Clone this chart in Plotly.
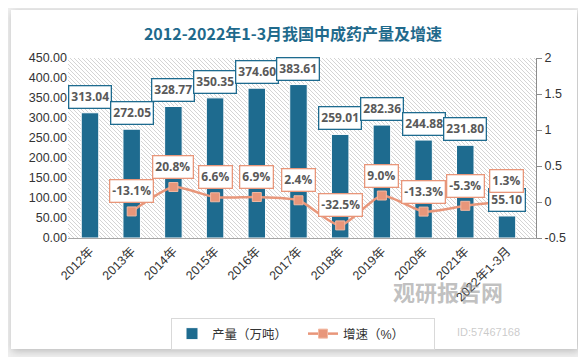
import base64
import plotly.graph_objects as go

# ---- data ----
years = ["2012年", "2013年", "2014年", "2015年", "2016年", "2017年",
         "2018年", "2019年", "2020年", "2021年", "2022年1-3月"]
production = [313.04, 272.05, 328.77, 350.35, 374.60, 383.61,
              259.01, 282.36, 244.88, 231.80, 55.10]
growth_years = years[1:]
growth_pct = [-13.1, 20.8, 6.6, 6.9, 2.4, -32.5, 9.0, -13.3, -5.3, 1.3]

title_text = "2012-2022年1-3月我国中成药产量及增速"
bar_name = "产量（万吨）"
line_name = "增速（%）"

# ---- style ----
OFF = 8  # page body margin
PAGE_W, PAGE_H = 586, 357
W, H = PAGE_W - OFF, PAGE_H - OFF
# plot area in page pixels: x 68..536, y 58..238
ML, MR, MT, MB = 68 - OFF, PAGE_W - 536, 58 - OFF, PAGE_H - 238
PW, PH = W - ML - MR, H - MT - MB
BLUE = "#1e6b8f"
ORANGE = "#e8967a"
FONT = "Liberation Sans, Noto Sans CJK SC, sans-serif"
LABEL_FONT = "Open Sans, Noto Sans CJK SC, sans-serif"


def px2x(px):  # page px -> paper x
    return (px - OFF - ML) / PW


def py2y(py):  # page px -> paper y
    return (MT + PH - (py - OFF)) / PH


def s(v):  # page px -> figure px
    return v - OFF


svg = f"""<svg xmlns='http://www.w3.org/2000/svg' width='{W}' height='{H}' viewBox='0 0 {W} {H}'>
<defs>
<filter id='sh' x='-10%' y='-10%' width='120%' height='120%'><feGaussianBlur stdDeviation='4'/></filter>
<pattern id='h' width='4' height='4' patternUnits='userSpaceOnUse'>
<path d='M-1,-1L5,5M3,-1L5,1M-1,3L1,5' stroke='#d4d4d4' stroke-width='1'/>
</pattern>
</defs>
<rect width='{W}' height='{H}' fill='#f0f0f0'/>
<rect x='{s(12)}' y='{s(12)}' width='567' height='339' fill='#b8b8b8' filter='url(#sh)'/>
<rect x='{s(11)}' y='{s(10)}' width='566' height='339' fill='#ffffff'/>
<rect x='{ML}' y='{MT}' width='{PW}' height='{PH}' fill='url(#h)'/>
</svg>"""
svg_uri = "data:image/svg+xml;base64," + base64.b64encode(svg.encode()).decode()

fig = go.Figure()
fig.add_trace(go.Bar(
    x=years, y=production, name=bar_name,
    marker=dict(color=BLUE, line=dict(color="white", width=1)),
    width=0.42,
))
fig.add_trace(go.Scatter(
    x=growth_years, y=[g / 100 for g in growth_pct], name=line_name,
    yaxis="y2", mode="lines+markers",
    line=dict(color=ORANGE, width=2.5, shape="spline", smoothing=0.6),
    marker=dict(symbol="square", size=9, color=ORANGE,
                line=dict(color="#f2b8a2", width=1)),
))

annotations = []
for x, v in zip(years, production):
    annotations.append(dict(
        x=x, y=v, xref="x", yref="y", text=f"{v:.2f}", showarrow=False,
        yanchor="bottom", yshift=4, bgcolor="white", bordercolor=BLUE,
        borderwidth=1.3, borderpad=2,
        font=dict(family=LABEL_FONT, size=12, color="#595959", weight="bold"),
    ))
for x, g in zip(growth_years, growth_pct):
    annotations.append(dict(
        x=x, y=g / 100, xref="x", yref="y2", text=f"{g:.1f}%", showarrow=False,
        yanchor="bottom", yshift=8, bgcolor="white", bordercolor=ORANGE,
        borderwidth=1.3, borderpad=2,
        font=dict(family=LABEL_FONT, size=12, color="#595959", weight="bold"),
    ))
# watermark
annotations.append(dict(
    x=px2x(505), y=py2y(309), xref="paper", yref="paper", text="观研报告网",
    showarrow=False, font=dict(family="Noto Sans CJK SC", size=22,
                               color="rgba(140,140,140,0.55)", weight="bold"),
))
annotations.append(dict(
    x=px2x(522), y=py2y(340), xref="paper", yref="paper", text="ID:57467168",
    showarrow=False, font=dict(family=FONT, size=11, color="rgba(150,150,150,0.5)"),
))

fig.update_layout(
    width=W, height=H,
    margin=dict(l=ML, r=MR, t=MT, b=MB, autoexpand=False),
    paper_bgcolor="#f0f0f0", plot_bgcolor="rgba(0,0,0,0)",
    images=[dict(source=svg_uri, xref="paper", yref="paper",
                 x=-ML / PW, y=1 + MT / PH, sizex=W / PW, sizey=H / PH,
                 xanchor="left", yanchor="top", sizing="stretch", layer="below")],
    title=dict(text=title_text, x=(293 - OFF) / W, xanchor="center",
               y=1 - s(34) / H, yanchor="middle",
               font=dict(family="Noto Sans CJK SC", size=16, color="#1f6a8c",
                         weight="bold")),
    font=dict(family=FONT, size=12.5, color="#333333"),
    bargap=0.58,
    showlegend=True,
    legend=dict(orientation="h", x=px2x(171), y=py2y(318), xanchor="left",
                yanchor="top", bordercolor="#d9d9d9", borderwidth=1,
                entrywidth=86, entrywidthmode="pixels",
                bgcolor="white", font=dict(family=FONT, size=12.5, color="#333333")),
    xaxis=dict(type="category", tickangle=-45, showline=True, linecolor="#a6a6a6",
               linewidth=1, ticks="", showgrid=False,
               tickfont=dict(family=FONT, size=12.5, color="#333333")),
    yaxis=dict(range=[0, 450], dtick=50, tickformat=".2f", showgrid=False,
               zeroline=False, showline=False, ticks="",
               tickfont=dict(family=FONT, size=12.5, color="#333333")),
    yaxis2=dict(overlaying="y", side="right", range=[-0.5, 2],
                tickvals=[-0.5, 0, 0.5, 1, 1.5, 2],
                ticktext=["-0.5", "0", "0.5", "1", "1.5", "2"],
                showgrid=False, zeroline=False, showline=True, linecolor="#8c8c8c",
                ticks="outside", ticklen=5, tickcolor="#8c8c8c",
                tickfont=dict(family=FONT, size=12.5, color="#333333")),
    annotations=annotations,
)

fig.write_html("out.html")
